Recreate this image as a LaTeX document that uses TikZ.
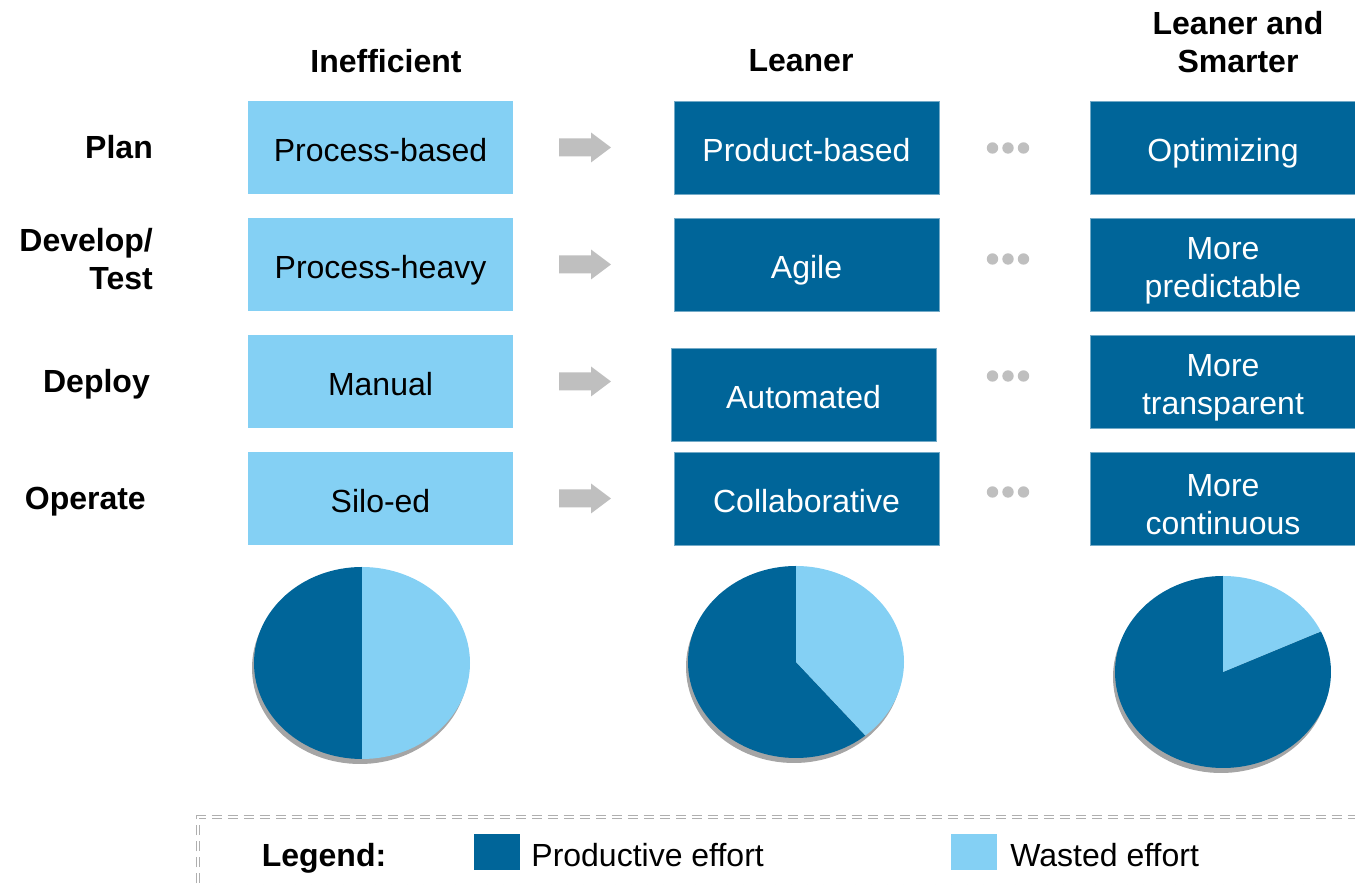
\documentclass[tikz,border=0pt]{standalone}
\usepackage{fontspec}
\setmainfont{Liberation Sans}
\usetikzlibrary{positioning}
\definecolor{deepblue}{RGB}{0,101,153}
\definecolor{skyblue}{RGB}{132,208,244}
\definecolor{arrowgray}{RGB}{191,191,191}
\definecolor{shadowgray}{RGB}{165,165,165}
\definecolor{dashgray}{RGB}{175,175,175}
\newcommand{\padtop}{\rule{0pt}{35pt}}
\begin{document}
\begin{tikzpicture}[x=1pt, y=1pt,
			every node/.style = {font=\fontsize{32}{38}\selectfont, align=center, inner sep=0pt},
			oneline/.style = {text height=30pt, text depth=2pt},
			head/.style = {font=\fontsize{32}{38}\selectfont\bfseries},
			stage/.style = {font=\fontsize{32}{38}\selectfont\bfseries, anchor=east, align=right},
			stageline/.style = {stage, text height=25pt, text depth=2pt},
			oldbox/.style = {oneline, fill=skyblue, minimum width=265pt, minimum height=93pt},
			newbox/.style = {fill=deepblue, draw=deepblue!55!white, line width=0.6pt, text=white,
				minimum width=265pt, minimum height=93pt},
			swatch/.style = {minimum width=46pt, minimum height=36pt}]
			
			\useasboundingbox (0,0) rectangle (1355,888);
			
			% column heads
			\node[head] (ineff) at (386,827) {Inefficient};
			\node[head] (lean) at (801,827) {Leaner};
			\node[head] (smart) at (1238,846) {Leaner and\\Smarter};
			
			% row heads
			\node[stageline] (plan) at (153,740.5) {Plan};
			\node[stage] (dev) at (153,628.5) {Develop/\\Test};
			\node[stageline] (deploy) at (150,506.5) {Deploy};
			\node[stageline] (operate) at (146,389.5) {Operate};
			
			% boxes
			\node[oldbox] (plan-old) at (380.5,740.5) {Process-based};
			\node[oldbox] (dev-old) at (380.5,623.5) {Process-heavy};
			\node[oldbox] (deploy-old) at (380.5,506.5) {Manual};
			\node[oldbox] (operate-old) at (380.5,389.5) {Silo-ed};
			
			\node[newbox, oneline] (plan-new) at (806.5,740.5) {Product-based};
			\node[newbox, oneline] (dev-new) at (806.5,623.5) {Agile};
			\node[newbox, oneline] (deploy-new) at (803.5,493.5) {Automated};
			\node[newbox, oneline] (operate-new) at (806.5,389.5) {Collaborative};
			
			\node[newbox, oneline] (plan-next) at (1223,740.5) {Optimizing};
			\node[newbox] (dev-next) at (1223,623.5) {\padtop More\\predictable};
			\node[newbox] (deploy-next) at (1223,506.5) {\padtop More\\transparent};
			\node[newbox] (operate-next) at (1223,389.5) {\padtop More\\continuous};
			
			% arrows and dots
			\foreach \y in {740.5,623.5,506.5,389.5}
			\fill[arrowgray] (559,\y-9) -- (591,\y-9) -- (591,\y-15) -- (611,\y)
				-- (591,\y+15) -- (591,\y+9) -- (559,\y+9) -- cycle;
			\foreach \y in {740,629,512,396}
			\foreach \x in {992.5,1008,1023.5}
			\fill[arrowgray] (\x,\y) circle (5.7);
			
			% pies
			\foreach \cx/\cy/\split in {362/225/270, 796/226/310, 1223/216/385}{
				\fill[shadowgray] (\cx-2,\cy-5) ellipse [x radius=108, y radius=96];
				\fill[deepblue] (\cx,\cy) -- (\cx,\cy+96)
					arc[start angle=90, end angle=\split, x radius=108, y radius=96] -- cycle;
				\fill[skyblue] (\cx,\cy) -- (\cx,\cy+96)
					arc[start angle=90, end angle=\split-360, x radius=108, y radius=96] -- cycle;
			}
			
			% legend
			\draw[dashgray, line width=0.7pt, dash pattern=on 10pt off 6pt, double, double distance=2.5pt]
				(198,4.5) rectangle (1380,71);
			\node[head, oneline] (legend) at (324,35.5) {Legend:};
			\node[swatch, fill=deepblue] (prod-key) at (497,35.5) {};
			\node[oneline, right=11pt of prod-key] (prod) {Productive effort};
			\node[swatch, fill=skyblue] (waste-key) at (974,35.5) {};
			\node[oneline, right=13pt of waste-key] (waste) {Wasted effort};
			\end{tikzpicture}
\end{document}
